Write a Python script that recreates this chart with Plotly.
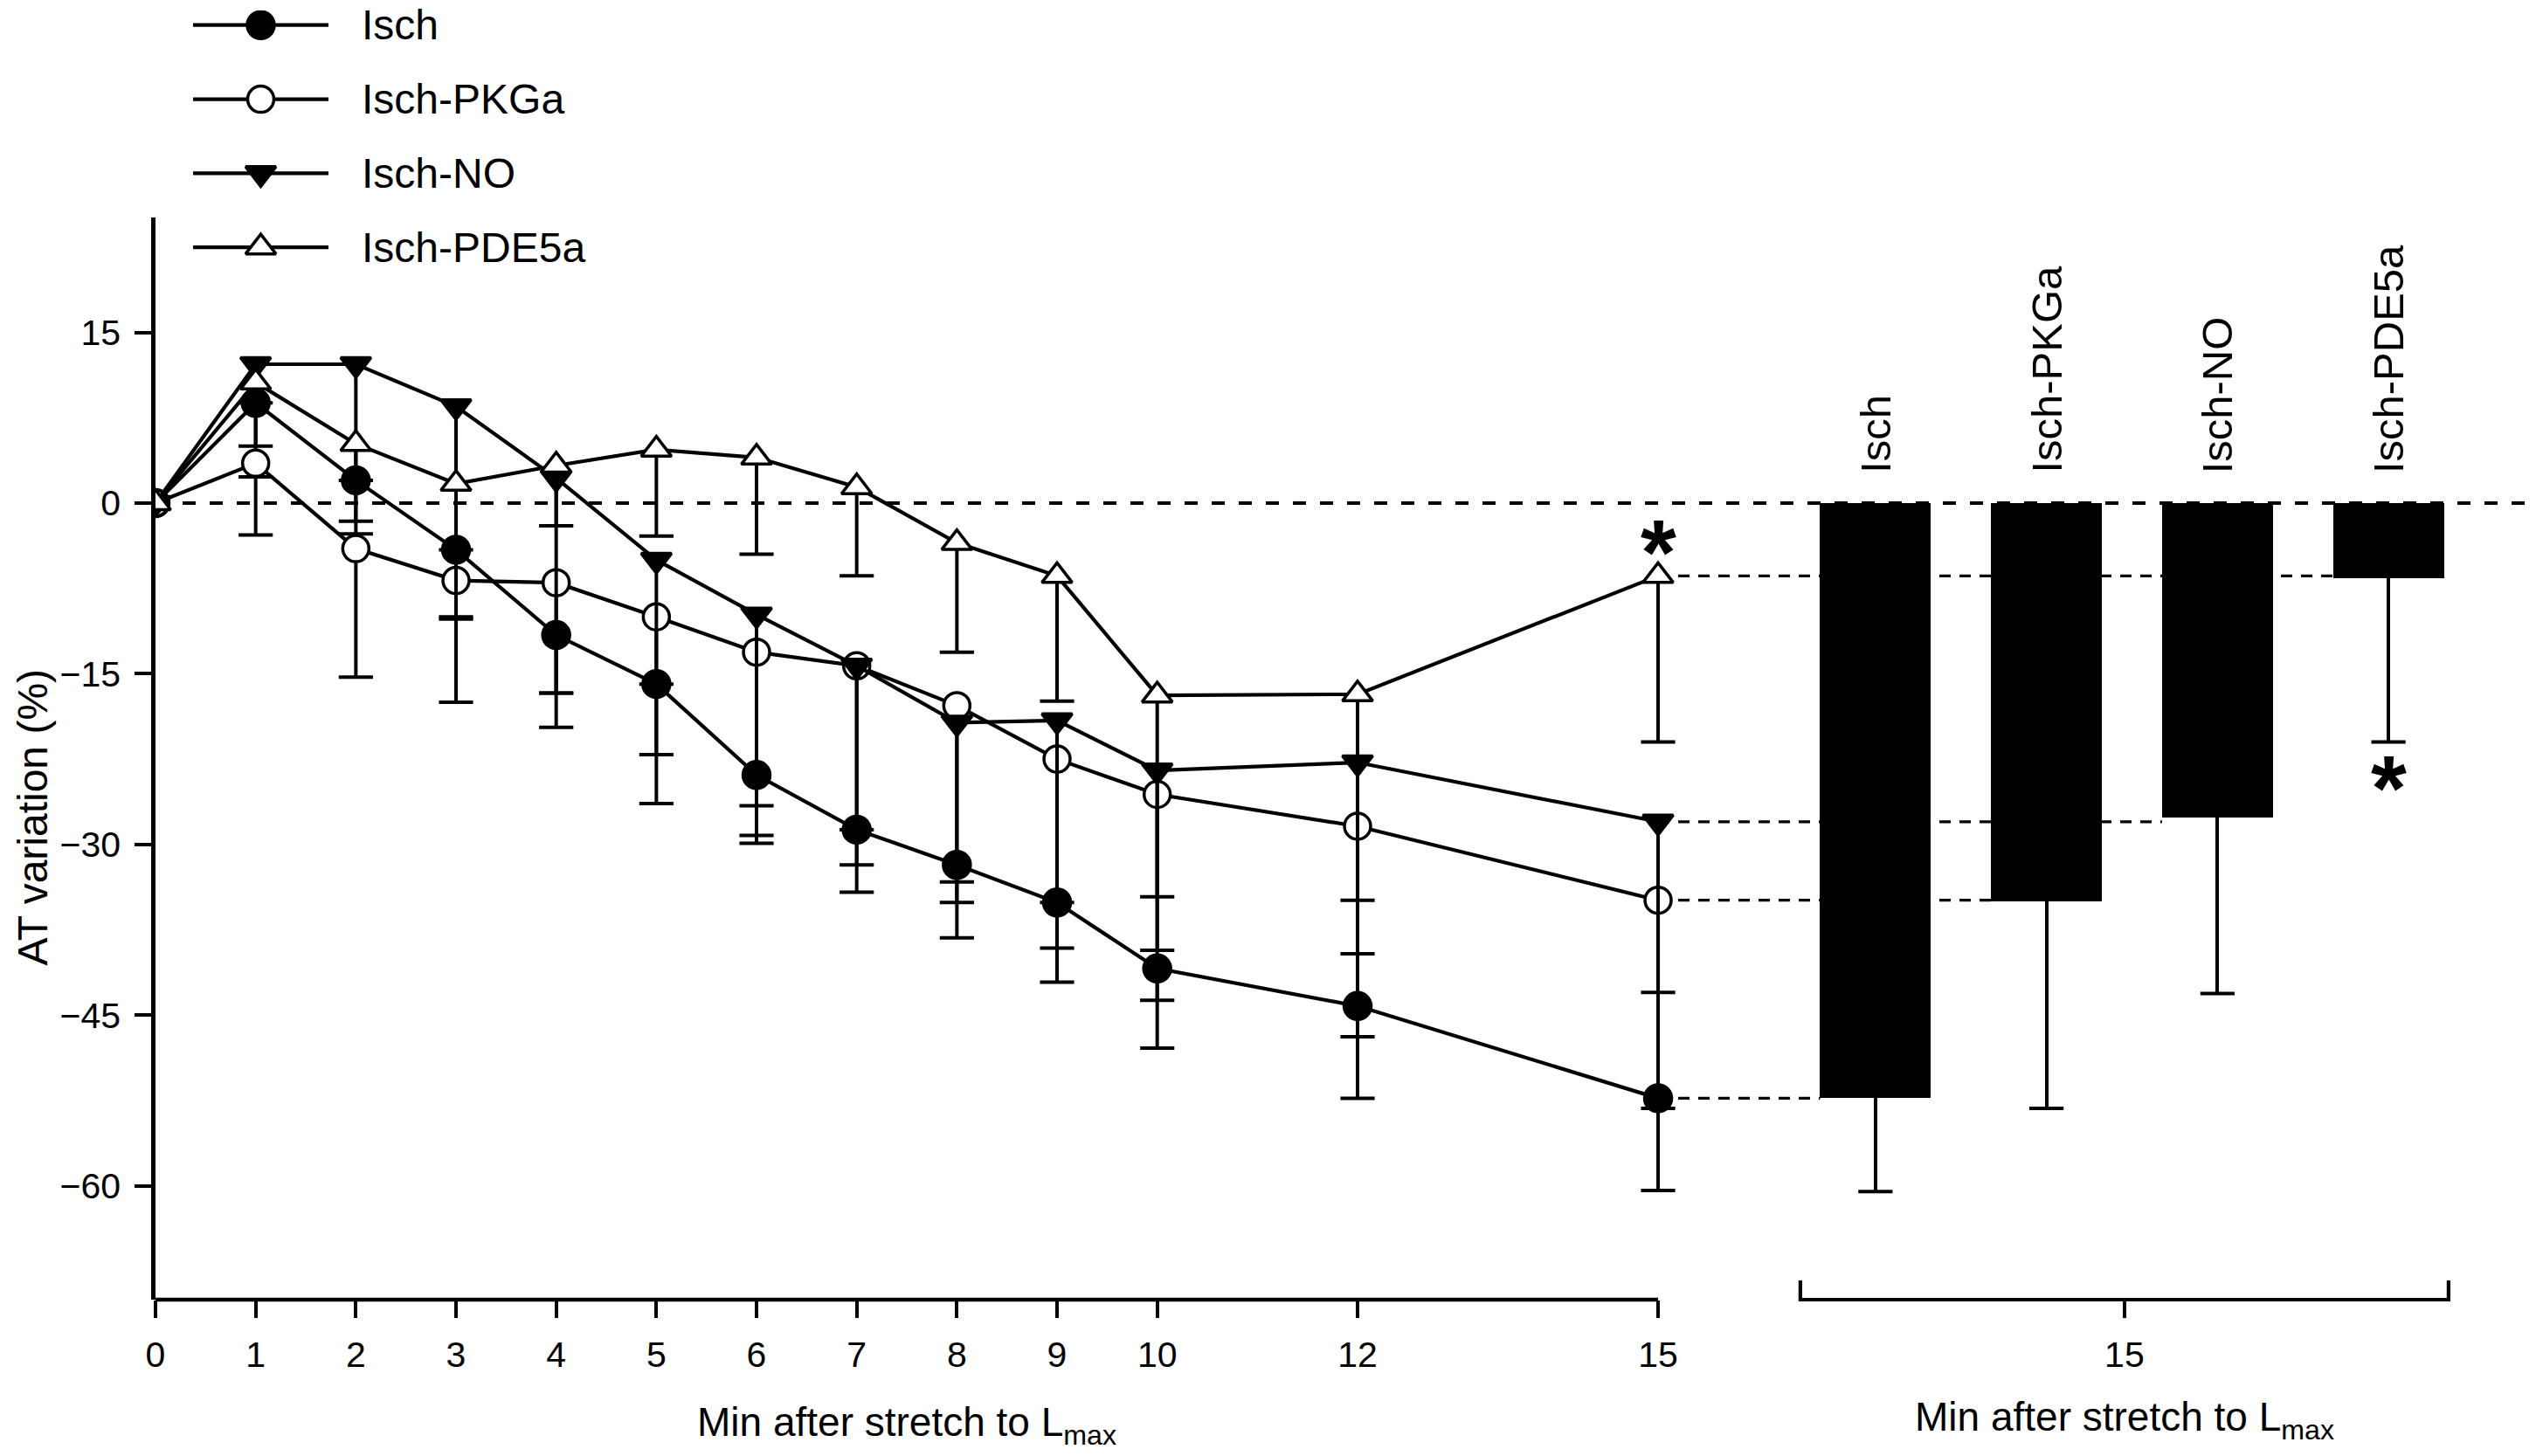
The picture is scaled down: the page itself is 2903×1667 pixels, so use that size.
import plotly.graph_objects as go

# minutes after stretch to Lmax
minutes = [0, 1, 2, 3, 4, 5, 6, 7, 8, 9, 10, 12, 15]
x_ticks = [0, 1, 2, 3, 4, 5, 6, 7, 8, 9, 10, 12, 15]
y_ticks = [-60, -45, -30, -15, 0, 15]

# AT variation (%) and downward SE
isch = [0, 8.8, 2.0, -4.1, -11.6, -15.9, -23.9, -28.7, -31.8, -35.1, -40.9, -44.2, -52.3]
isch_se = [0, 11.6, 3.6, 6.1, 8.1, 10.5, 6.0, 3.1, 6.4, 7.0, 7.0, 8.1, 8.1]
pkga = [0, 3.5, -4.0, -6.8, -7.0, -10.0, -13.1, -14.3, -17.8, -22.5, -25.6, -28.4, -34.9]
pkga_se = [0, 1.2, 11.3, 10.7, 9.7, 12.1, 13.5, 19.9, 17.3, 16.6, 18.1, 18.5, 18.3]
no = [0, 12.2, 12.2, 8.5, 2.2, -5.0, -9.8, -14.3, -19.3, -19.1, -23.5, -22.8, -28.0]
no_se = [0, 7.2, 14.9, 18.5, 18.9, 10.9, 19.4, 14.4, 14.0, 16.0, 15.8, 16.8, 15.0]
pde5a = [0, 10.6, 5.2, 1.7, 3.3, 4.7, 4.0, 1.4, -3.5, -6.4, -16.9, -16.8, -6.4]
pde5a_se = [0, 1.8, 3.2, 5.8, 5.3, 7.6, 8.5, 7.8, 9.6, 11.0, 17.7, 18.1, 14.6]

# bars at 15 min
bar_names = ["Isch", "Isch-PKGa", "Isch-NO", "Isch-PDE5a"]
bar_vals = [-52.3, -35.0, -27.6, -6.6]
bar_se = [8.2, 18.2, 15.5, 14.4]

FONT = "Liberation Sans, Arial, Helvetica, sans-serif"
LW = 4.2
EW = 4.0
X_MAX = 23.764
BAR_FIRST, BAR_STEP, BAR_W = 17.17, 1.707, 1.107
bar_x = [BAR_FIRST + i * BAR_STEP for i in range(len(bar_names))]
bracket = [bar_x[0] - 0.75, bar_x[-1] + 0.6]
bracket_mid = (bracket[0] + bracket[1]) / 2

# legend box (paper coords)
LEG_X = [0.01578, 0.07266]
LEG_Y = [0.7983, 0.9921]
LEG_R = [3.2, -0.2]
LEG_TEXT_X = 0.0857

series = [
    ("Isch", isch, isch_se, "circle", "black", 31),
    ("Isch-PKGa", pkga, pkga_se, "circle", "white", 30),
    ("Isch-NO", no, no_se, "triangle-down", "black", 30),
    ("Isch-PDE5a", pde5a, pde5a_se, "triangle-up", "white", 30),
]

fig = go.Figure()

# error bar caps (drawn first so markers sit on top)
for name, vals, se, sym, fill, size in series:
    cx = [m for m, e in zip(minutes, se) if e > 0]
    cy = [v - e for v, e in zip(vals, se) if e > 0]
    fig.add_trace(go.Scatter(
        x=cx, y=cy, mode="markers", hoverinfo="skip", showlegend=False,
        marker=dict(symbol="line-ew", size=28, color="black",
                    line=dict(color="black", width=EW)),
    ))

for name, vals, se, sym, fill, size in series:
    fig.add_trace(go.Scatter(
        x=minutes, y=vals, name=name, mode="lines+markers",
        line=dict(color="black", width=LW),
        marker=dict(symbol=sym, size=size, color=fill,
                    line=dict(color="black", width=3.5)),
        error_y=dict(type="data", symmetric=False, array=[0] * len(se),
                     arrayminus=se, width=0, thickness=EW, color="black"),
    ))

# right panel bars
fig.add_trace(go.Bar(
    x=bar_x, y=bar_vals, width=BAR_W, marker=dict(color="black", line=dict(width=0)),
    showlegend=False,
    error_y=dict(type="data", symmetric=False, array=[0] * len(bar_se),
                 arrayminus=bar_se, width=0, thickness=EW, color="black"),
))
fig.add_trace(go.Scatter(
    x=bar_x, y=[v - e for v, e in zip(bar_vals, bar_se)], mode="markers",
    showlegend=False, hoverinfo="skip",
    marker=dict(symbol="line-ew", size=28, color="black",
                line=dict(color="black", width=EW)),
))

annotations = []

# hand-made legend on its own small axes
for k, (name, vals, se, sym, fill, size) in enumerate(series):
    fig.add_trace(go.Scatter(
        x=[0, 1], y=[k, k], mode="lines", xaxis="x3", yaxis="y3",
        line=dict(color="black", width=LW), showlegend=False, hoverinfo="skip",
    ))
    fig.add_trace(go.Scatter(
        x=[0.5], y=[k], mode="markers", xaxis="x3", yaxis="y3",
        marker=dict(symbol=sym, size=size, color=fill, line=dict(color="black", width=3.5)),
        showlegend=False, hoverinfo="skip",
    ))
    ty = LEG_Y[0] + (LEG_R[0] - k) / (LEG_R[0] - LEG_R[1]) * (LEG_Y[1] - LEG_Y[0])
    annotations.append(dict(x=LEG_TEXT_X, y=ty, xref="paper", yref="paper", text=name,
                            showarrow=False, xanchor="left", yanchor="middle",
                            font=dict(size=48, family=FONT, color="black")))

shapes = []
# dashed zero line
shapes.append(dict(type="line", xref="x", yref="y", x0=0, x1=X_MAX, y0=0, y1=0,
                   line=dict(color="black", width=4, dash="15px,16px"), layer="below"))
# dashed connectors from 15-min points to bars
last_vals = [s[1][-1] for s in series]
for i, v in enumerate(last_vals):
    shapes.append(dict(type="line", xref="x", yref="y", x0=15, x1=bar_x[i] - BAR_W / 2,
                       y0=v, y1=v, line=dict(color="black", width=3.2, dash="13px,10px"),
                       layer="below"))
# left x axis line (0..15)
shapes.append(dict(type="line", xref="x", yref="paper", x0=0, x1=15, y0=0, y1=0,
                   line=dict(color="black", width=4.5)))
# bracket under bars
shapes.append(dict(type="path", xref="x", yref="paper",
                   path=f"M{bracket[0]},0.0148 L{bracket[0]},0 L{bracket[1]},0 L{bracket[1]},0.0148",
                   line=dict(color="black", width=LW)))

title_font = dict(size=46, family=FONT, color="black")
annotations += [
    dict(x=7.5, y=-0.0755, xref="x", yref="paper", text="Min after stretch to L<sub>max</sub>",
         showarrow=False, xanchor="center", yanchor="top", font=title_font),
    dict(x=bracket_mid, y=-0.0715, xref="x", yref="paper", text="Min after stretch to L<sub>max</sub>",
         showarrow=False, xanchor="center", yanchor="top", font=title_font),
    dict(x=-0.0515, y=0.371, xref="paper", yref="paper", text="AT variation (%)",
         textangle=-90, showarrow=False, xanchor="center", yanchor="middle",
         font=dict(size=48, family=FONT, color="black")),
    dict(x=15, y=pde5a[-1], xref="x", yref="y", text="<b>*</b>", showarrow=False,
         xanchor="center", yanchor="middle", yshift=27,
         font=dict(size=105, family=FONT, color="black")),
    dict(x=bar_x[3], y=bar_vals[3] - bar_se[3], xref="x", yref="y", text="<b>*</b>",
         showarrow=False, xanchor="center", yanchor="middle", yshift=-53,
         font=dict(size=105, family=FONT, color="black")),
]
for i, name in enumerate(bar_names):
    annotations.append(dict(x=bar_x[i], y=0, xref="x", yref="y", text=name, textangle=-90,
                            showarrow=False, xanchor="center", yanchor="bottom", yshift=32,
                            font=dict(size=49, family=FONT, color="black")))

tick_font = dict(size=41, family=FONT, color="black")
fig.update_layout(
    width=2903, height=1667,
    margin=dict(l=178, r=0, t=0, b=179),
    paper_bgcolor="white", plot_bgcolor="white",
    showlegend=False,
    font=dict(family=FONT, size=41, color="black"),
    xaxis=dict(range=[0, X_MAX], tickvals=x_ticks + [bracket_mid],
               ticktext=[str(t) for t in x_ticks] + ["15"],
               ticks="outside", ticklen=20, tickwidth=4, tickcolor="black",
               ticklabelstandoff=7,
               showline=False, showgrid=False, zeroline=False, tickfont=tick_font),
    yaxis=dict(domain=[0, 0.8327], range=[-70, 25.1], tickvals=y_ticks,
               ticks="outside", ticklen=19, tickwidth=4, tickcolor="black",
               ticklabelstandoff=8,
               showline=True, linewidth=4.5, linecolor="black",
               showgrid=False, zeroline=False, tickfont=tick_font),
    xaxis3=dict(domain=LEG_X, range=[0, 1], anchor="y3", visible=False),
    yaxis3=dict(domain=LEG_Y, range=LEG_R, anchor="x3", visible=False),
    shapes=shapes,
    annotations=annotations,
    bargap=0,
)

fig.write_html("out.html", config={"displayModeBar": False},
               post_script="document.body.style.margin='0px';")
